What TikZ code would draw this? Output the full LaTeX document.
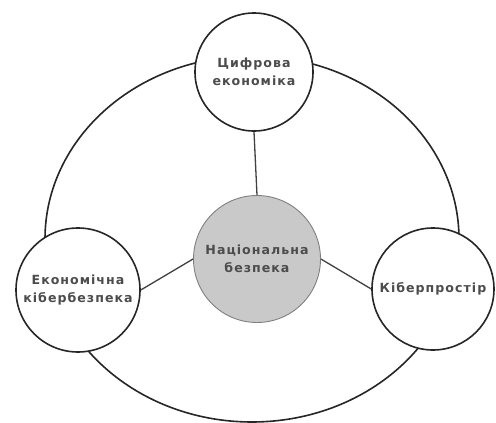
\documentclass[tikz,border=0pt]{standalone}
\usepackage{fontspec}
\newfontfamily\labelfont[LetterSpace=8,BoldFont={DejaVu Sans Bold}]{DejaVu Sans}
\begin{document}
\begin{tikzpicture}[x=1pt,y=-1pt,line join=round,
		part/.style={circle,draw=black!85,line width=1.6pt,fill=white,inner sep=0pt,align=center,text=black!70,font=\labelfont\bfseries\fontsize{12.6}{18}\selectfont},
		core/.style={part,fill=black!21,draw=black!50,line width=0.9pt},
		link/.style={line width=1.3pt,draw=black!75}]
				\useasboundingbox (0,0) rectangle (496,423);
				% outer ring behind the nodes
				\draw[line width=1.6pt,black!85] (252,239) ellipse [x radius=207pt,y radius=183pt];
				\node[core,minimum size=127pt] (nat) at (257,259) {Національна\\безпека};
				\node[part,minimum size=118pt] (dig) at (254,72) {Цифрова\\економіка};
				\node[part,minimum size=124pt] (eco) at (78,290) {Економічна\\кібербезпека};
				\node[part,minimum size=122pt] (cyb) at (433,289) {Кіберпростір};
				\draw[link] (dig.south)--(nat.north);
				\draw[link] (nat.west)--(eco.east);
				\draw[link] (nat.east)--(cyb.west);
		\end{tikzpicture}
\end{document}
